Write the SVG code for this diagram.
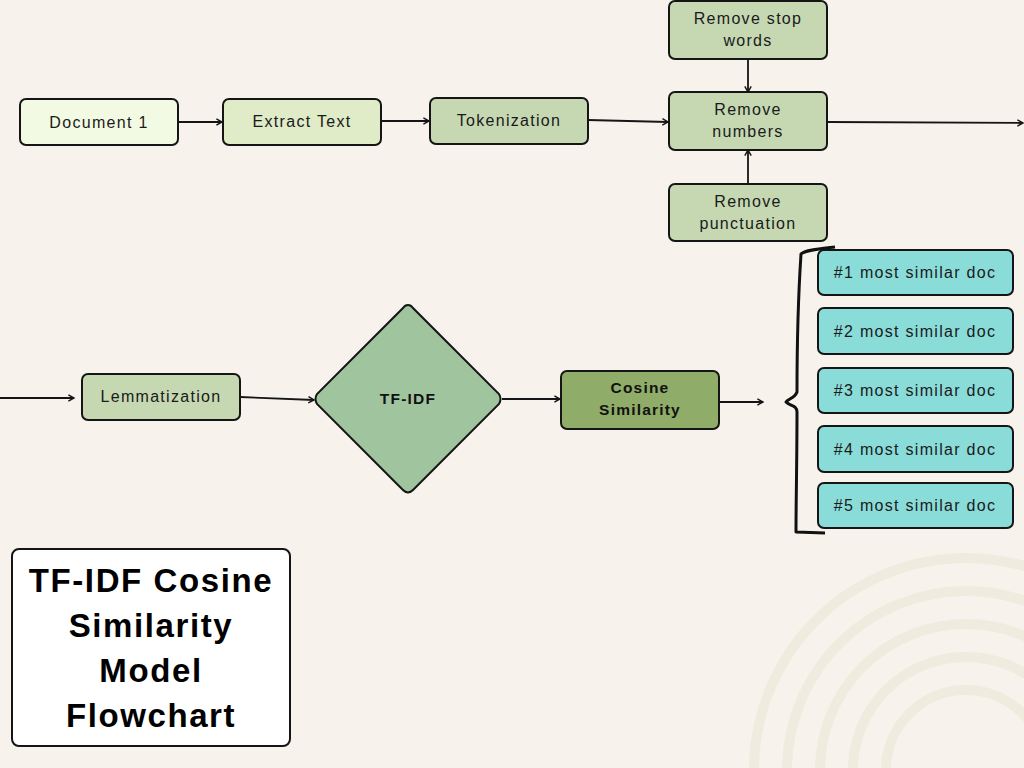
<svg xmlns="http://www.w3.org/2000/svg" width="1024" height="768" viewBox="0 0 1024 768">
<defs>
<style>
.bx{stroke:#151515;stroke-width:2;}
.t{font-family:"Liberation Sans",Arial,sans-serif;font-size:16px;fill:#1a1a1a;text-anchor:middle;letter-spacing:1.3px;}
.tb{font-family:"Liberation Sans",Arial,sans-serif;font-size:15.5px;font-weight:bold;fill:#111;text-anchor:middle;letter-spacing:1.2px;}
.title{font-family:"Liberation Sans",Arial,sans-serif;font-size:33px;font-weight:bold;fill:#000;text-anchor:middle;letter-spacing:1.6px;}
.c{fill:none;stroke:#151515;stroke-width:1.8;}
.arc{fill:none;stroke:#eeebdf;stroke-width:10;}
</style>
<marker id="ah" viewBox="0 0 10 10" refX="9" refY="5" markerWidth="8" markerHeight="8" orient="auto" markerUnits="userSpaceOnUse">
<path d="M2,1 L9,5 L2,9" fill="none" stroke="#151515" stroke-width="1.8"/>
</marker>
</defs>
<rect width="1024" height="768" fill="#f7f3ec"/>
<g id="decor">
<circle class="arc" cx="966" cy="770" r="212"/>
<circle class="arc" cx="966" cy="770" r="179"/>
<circle class="arc" cx="966" cy="770" r="146"/>
<circle class="arc" cx="966" cy="770" r="113"/>
<circle class="arc" cx="966" cy="770" r="80"/>
</g>
<g id="connectors">
<line class="c" x1="178" y1="122" x2="222" y2="122" marker-end="url(#ah)"/>
<line class="c" x1="381" y1="121" x2="429" y2="121" marker-end="url(#ah)"/>
<line class="c" x1="588" y1="120" x2="668" y2="122" marker-end="url(#ah)"/>
<line class="c" x1="748" y1="59" x2="748" y2="92" marker-end="url(#ah)"/>
<line class="c" x1="748" y1="184" x2="748" y2="150" marker-end="url(#ah)"/>
<line class="c" x1="828" y1="122" x2="1023" y2="123" marker-end="url(#ah)"/>
<line class="c" x1="0" y1="398" x2="74" y2="398" marker-end="url(#ah)"/>
<line class="c" x1="240" y1="397" x2="314" y2="400" marker-end="url(#ah)"/>
<line class="c" x1="502" y1="399" x2="560" y2="399" marker-end="url(#ah)"/>
<line class="c" x1="719" y1="402" x2="763" y2="402" marker-end="url(#ah)"/>
<path d="M835,247 C818,249 806,250 801,254 C798,300 797,350 797,392 C795,398 788,399 786,402 C790,406 797,405 797,412 C797,460 796,500 796,532 L825,533" fill="none" stroke="#111" stroke-width="3" stroke-linejoin="round"/>
</g>
<g id="doc1"><rect class="bx" x="20" y="99" width="158" height="46" rx="6" fill="#f3fae3"/><text class="t" x="99" y="128">Document 1</text></g>
<g id="extract"><rect class="bx" x="223" y="99" width="158" height="46" rx="6" fill="#e0ebc8"/><text class="t" x="302" y="127">Extract Text</text></g>
<g id="token"><rect class="bx" x="430" y="98" width="158" height="46" rx="6" fill="#c5d8b2"/><text class="t" x="509" y="126">Tokenization</text></g>
<g id="stopwords"><rect class="bx" x="669" y="1" width="158" height="58" rx="6" fill="#c5d8b2"/><text class="t" x="748" y="24">Remove stop</text><text class="t" x="748" y="46">words</text></g>
<g id="numbers"><rect class="bx" x="669" y="92" width="158" height="58" rx="6" fill="#c5d8b2"/><text class="t" x="748" y="115">Remove</text><text class="t" x="748" y="137">numbers</text></g>
<g id="punct"><rect class="bx" x="669" y="184" width="158" height="57" rx="6" fill="#c5d8b2"/><text class="t" x="748" y="207">Remove</text><text class="t" x="748" y="229">punctuation</text></g>
<g id="lemma"><rect class="bx" x="82" y="374" width="158" height="46" rx="6" fill="#c5d8b2"/><text class="t" x="161" y="402">Lemmatization</text></g>
<g id="tfidf"><path class="bx" d="M408,305 Q411,305 413,308 L499,394 Q502,399 499,404 L413,490 Q408,495 403,490 L317,404 Q314,399 317,394 L403,308 Q405,305 408,305 Z" fill="#a0c49e"/><text class="tb" x="408" y="404">TF-IDF</text></g>
<g id="cosine"><rect class="bx" x="561" y="371" width="158" height="58" rx="6" fill="#8fac68"/><text class="tb" x="640" y="393">Cosine</text><text class="tb" x="640" y="415">Similarity</text></g>
<g id="doc_1"><rect class="bx" x="818" y="250" width="195" height="45" rx="6" fill="#8adcd9"/><text class="t" x="915" y="278">#1 most similar doc</text></g>
<g id="doc_2"><rect class="bx" x="818" y="308" width="195" height="46" rx="6" fill="#8adcd9"/><text class="t" x="915" y="337">#2 most similar doc</text></g>
<g id="doc_3"><rect class="bx" x="818" y="368" width="195" height="45" rx="6" fill="#8adcd9"/><text class="t" x="915" y="396">#3 most similar doc</text></g>
<g id="doc_4"><rect class="bx" x="818" y="426" width="195" height="46" rx="6" fill="#8adcd9"/><text class="t" x="915" y="455">#4 most similar doc</text></g>
<g id="doc_5"><rect class="bx" x="818" y="483" width="195" height="45" rx="6" fill="#8adcd9"/><text class="t" x="915" y="511">#5 most similar doc</text></g>
<g id="title"><rect x="12" y="549" width="278" height="197" rx="7" fill="#ffffff" stroke="#151515" stroke-width="2"/>
<text class="title" x="151" y="592">TF-IDF Cosine</text>
<text class="title" x="151" y="637">Similarity</text>
<text class="title" x="151" y="682">Model</text>
<text class="title" x="151" y="727">Flowchart</text></g>
</svg>
